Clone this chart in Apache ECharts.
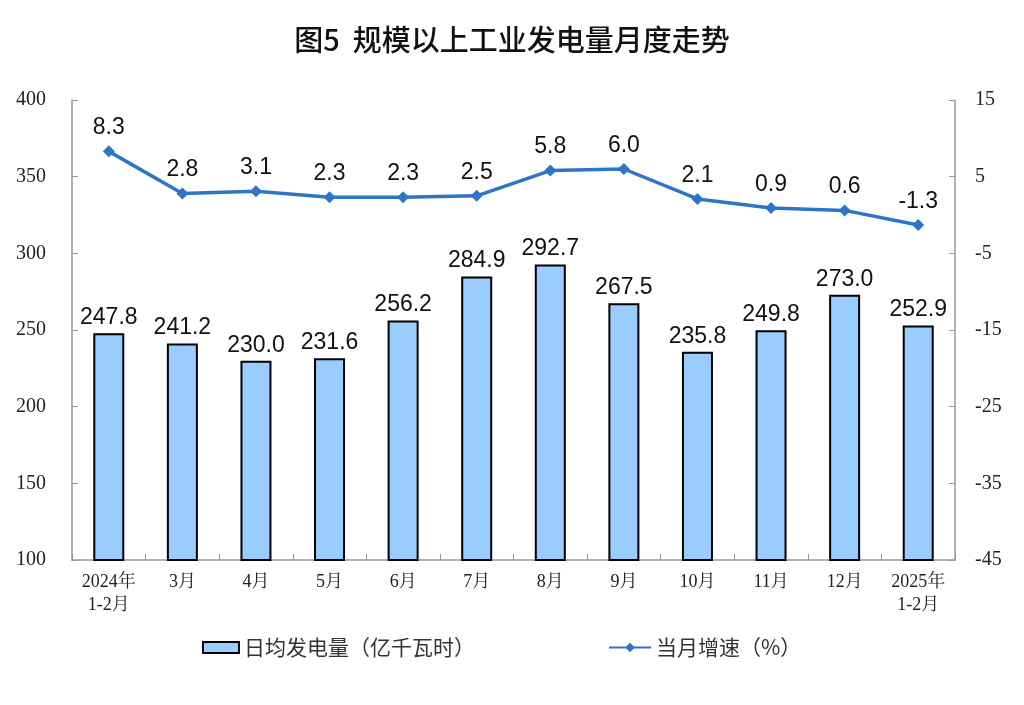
<!DOCTYPE html>
<html><head><meta charset="utf-8">
<script src="https://cdn.jsdelivr.net/npm/echarts@6/dist/echarts.min.js"></script>
<style>html,body{margin:0;padding:0;background:#fff}#c{width:1024px;height:705px}</style>
</head><body><div id="c"></div>
<script>
const categories = ['2024年\n1-2月','3月','4月','5月','6月','7月','8月','9月','10月','11月','12月','2025年\n1-2月'];
const dailyOutput = [247.8,241.2,230.0,231.6,256.2,284.9,292.7,267.5,235.8,249.8,273.0,252.9];
const growth = [8.3,2.8,3.1,2.3,2.3,2.5,5.8,6.0,2.1,0.9,0.6,-1.3];
const leftTicks = [100,400,50];
const rightTicks = [-45,15,10];

const chart = echarts.init(document.getElementById('c'));
const serif = '"Liberation Serif","Noto Serif CJK SC","Noto Sans CJK SC",serif';
const sans = '"Liberation Sans",Arial,sans-serif';
const cjk = '"Noto Sans CJK SC",sans-serif';
chart.setOption({
  animation:false,
  title:{text:'图5  规模以上工业发电量月度走势',left:'center',top:20,
    textStyle:{fontFamily:cjk,fontSize:29,fontWeight:500,color:'#111'}},
  grid:{left:72,right:69,top:100,bottom:145},
  legend:[{
    data:[{name:'日均发电量（亿千瓦时）',icon:'rect'}],left:197,top:632,itemWidth:36,itemHeight:11,itemGap:6,
    itemStyle:{borderColor:'#000',borderWidth:2},
    textStyle:{fontFamily:cjk,fontSize:21,color:'#333'}
  },{
    data:[{name:'当月增速（%）'}],left:603,top:632,itemWidth:42,itemHeight:12,
    textStyle:{fontFamily:cjk,fontSize:21,color:'#333'}
  }],
  xAxis:{type:'category',data:categories,
    axisLine:{onZero:false,lineStyle:{color:'#999',width:1.5}},
    axisTick:{show:true,inside:true,length:6,lineStyle:{color:'#999'}},
    axisLabel:{fontFamily:serif,fontSize:18,color:'#222',lineHeight:23,margin:11,interval:0}},
  yAxis:[{type:'value',min:leftTicks[0],max:leftTicks[1],interval:leftTicks[2],
    splitLine:{show:false},
    axisLine:{show:true,lineStyle:{color:'#999',width:1.5}},
    axisTick:{show:true,inside:true,length:6,lineStyle:{color:'#999'}},
    axisLabel:{fontFamily:serif,fontSize:20,color:'#222',margin:26}},
   {type:'value',min:rightTicks[0],max:rightTicks[1],interval:rightTicks[2],
    splitLine:{show:false},
    axisLine:{show:true,lineStyle:{color:'#999',width:1.5}},
    axisTick:{show:true,inside:true,length:6,lineStyle:{color:'#999'}},
    axisLabel:{fontFamily:serif,fontSize:20,color:'#222',margin:20}}],
  series:[{
    name:'日均发电量（亿千瓦时）',type:'bar',data:dailyOutput,barWidth:31,
    itemStyle:{color:'#99CCFF',borderColor:'#000',borderWidth:2},
    label:{show:true,position:'top',distance:4,formatter:p=>p.value.toFixed(1),
      fontFamily:sans,fontSize:23,color:'#111'}
  },{
    name:'当月增速（%）',type:'line',yAxisIndex:1,data:growth,
    symbol:'diamond',symbolSize:12,
    lineStyle:{color:'#2E75C8',width:3.5},itemStyle:{color:'#2E75C8'},
    label:{show:true,position:'top',distance:6,formatter:p=>p.value.toFixed(1),
      fontFamily:sans,fontSize:23,color:'#111'}
  }]
});
</script></body></html>
